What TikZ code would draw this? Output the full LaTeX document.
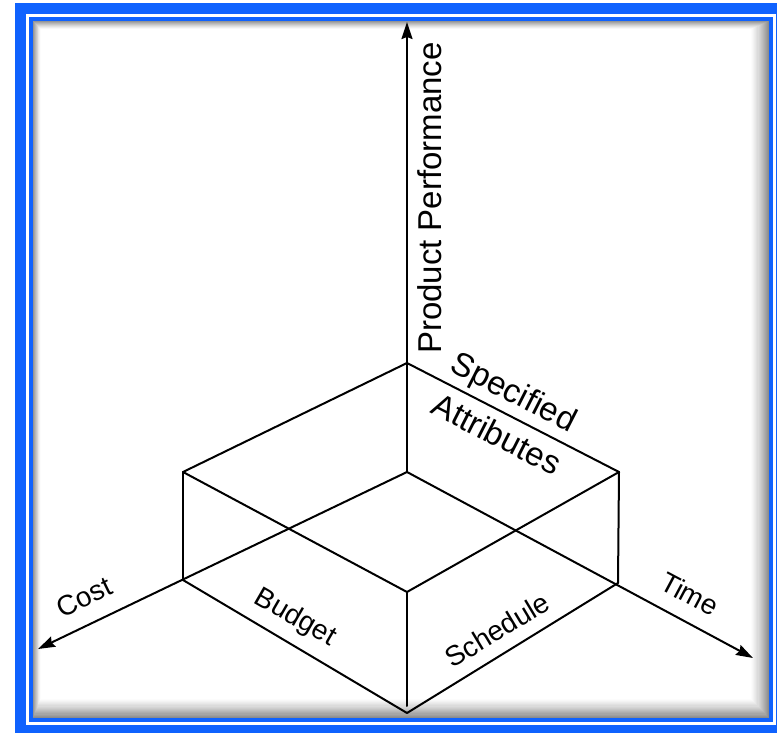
\documentclass[tikz,border=0pt]{standalone}
\usepackage{fontspec}
\setmainfont{Liberation Sans}
\usetikzlibrary{arrows.meta}
\definecolor{frameblue}{RGB}{15,98,254}
\tikzset{
  edge/.style={line width=2pt, line cap=round, line join=round},
  axis/.style={edge, -{Stealth[length=17pt,width=11pt,inset=2pt]}},
  lbl/.style={font=\fontsize{28}{30}\selectfont, inner sep=0pt},
  biglbl/.style={font=\fontsize{33}{35}\selectfont, inner sep=0pt},
}
\begin{document}
\begin{tikzpicture}[x=1pt,y=-1pt]
\useasboundingbox (0,0) rectangle (777,733);
% frame
\fill[frameblue] (15,3) rectangle (800,760);
\fill[white] (26,14) rectangle (776,725);
\fill[frameblue] (29,17) rectangle (773,722);
\foreach \i in {0,...,16}{
  \pgfmathsetmacro{\dk}{45*(1-\i/17)^1.3}
  \fill[black!\dk] ({33+\i*0.45},{21+\i*0.5}) rectangle ({769-\i*1.05},{718-\i*1.15});
}
\fill[white] (40.6,29.5) rectangle (751,698.5);
% points
\coordinate (O) at (407,472);
\coordinate (T) at (407,363);
\coordinate (TL) at (183,472);
\coordinate (TR) at (619,472);
\coordinate (TF) at (407,592);
\coordinate (BL) at (183,580);
\coordinate (BR) at (618,583);
\coordinate (F) at (407,713);
\coordinate (Fv) at (407,706);
\coordinate (PP) at (407,22);
\coordinate (CC) at (38,649);
\coordinate (TT) at (753,658);
% axes
\draw[axis] (O) -- (PP);
\draw[axis] (O) -- (CC);
\draw[axis] (O) -- (TT);
% box
\draw[edge] (TL) -- (T) -- (TR);
\draw[edge] (TL) -- (TF) -- (TR);
\draw[edge] (TL) -- (BL);
\draw[edge] (TR) -- (BR);
\draw[edge] (TF) -- (Fv);
\draw[edge] (BL) -- (F) -- (BR);
% labels
\node[biglbl, rotate=90] (lpp) at (430,198) {Product Performance};
\node[biglbl, rotate=-27] (lsp) at (513,394) {Specified};
\node[biglbl, rotate=-27] (lat) at (497,434) {Attributes};
\node[lbl, rotate=26] (lco) at (84,597) {Cost};
\node[lbl, rotate=-30] (lbu) at (295,618) {Budget};
\node[lbl, rotate=31] (lsc) at (497,630) {Schedule};
\node[lbl, rotate=-28] (lti) at (690,594) {Time};
\end{tikzpicture}
\end{document}
